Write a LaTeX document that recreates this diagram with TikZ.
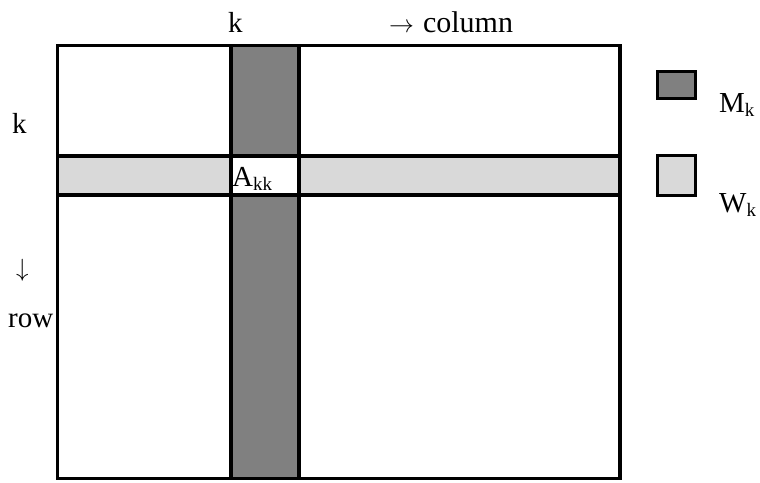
\documentclass[tikz,border=0pt]{standalone}
\usepackage{fontspec}
\setmainfont{Liberation Serif}
\begin{document}
\begin{tikzpicture}[x=1pt,y=-1pt,
  grid/.style={line width=3.5pt, line cap=rect},
  lab/.style={anchor=base west, inner sep=0pt, font=\fontsize{29}{34}\selectfont}]
\definecolor{colshade}{HTML}{808080}
\definecolor{rowshade}{HTML}{D9D9D9}
\newcommand\subtxt[1]{\raisebox{-4pt}{\fontsize{19}{22}\selectfont #1}}
\useasboundingbox (0,0) rectangle (760,482);

% shaded column M_k and row W_k, with the pivot cell left white
\fill[colshade] (231,45.5) rectangle (299,478.5);
\fill[rowshade] (57.5,156) rectangle (620,195);
\fill[white] (231,156) rectangle (299,195);

% frame and the borders of the pivot column and row
\draw[grid] (57.5,45.5) rectangle (620,478.5);
\draw[grid] (231,45.5) -- (231,478.5);
\draw[grid] (299,45.5) -- (299,478.5);
\draw[grid] (57.5,156) -- (620,156);
\draw[grid] (57.5,195) -- (620,195);

% legend boxes
\draw[line width=3.5pt, fill=colshade] (657.5,71.5) rectangle (695.5,98.5);
\draw[line width=3.5pt, fill=rowshade] (657.5,155.5) rectangle (695.5,195.5);

% labels
\node[lab] (ktop) at (228,32) {k};
\node[lab] (coltxt) at (389,32) {\fontsize{33}{34}\selectfont$\rightarrow$\hspace{9pt}\fontsize{30}{34}\selectfont column};
\node[lab] (kleft) at (12,133) {k};
\node[lab] (down) at (16,276) {\fontsize{33}{34}\selectfont$\downarrow$};
\node[lab] (rowtxt) at (8,327) {row};
\node[lab] (akk) at (232,186) {A\subtxt{kk}};
\node[lab] (mk) at (719,112) {M\subtxt{k}};
\node[lab] (wk) at (719,212) {W\subtxt{k}};
\end{tikzpicture}
\end{document}
